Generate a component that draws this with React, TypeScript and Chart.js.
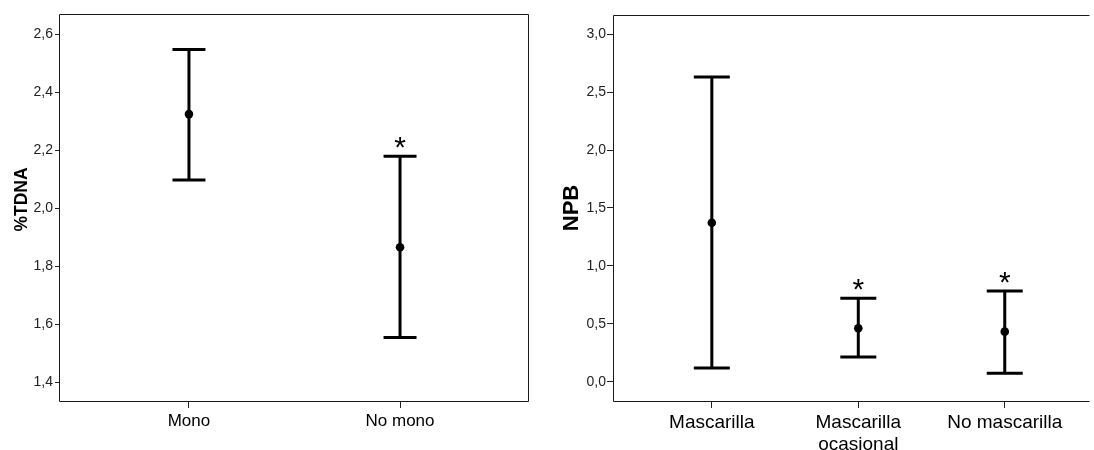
import React, { useEffect, useRef } from "react";
import { Chart, registerables } from "chart.js";
Chart.register(...registerables);

// ---- Left panel data ----
const leftCategories = ["Mono", "No mono"];
const leftMeans = [2.324, 1.865];
const leftLower = [2.097, 1.554];
const leftUpper = [2.547, 2.179];
const leftSig = [false, true];
const leftTicks = [1.4, 1.6, 1.8, 2.0, 2.2, 2.4, 2.6];
const leftTitle = "%TDNA";

// ---- Right panel data ----
const rightCategories = ["Mascarilla", "Mascarilla\nocasional", "No mascarilla"];
const rightMeans = [1.373, 0.461, 0.432];
const rightLower = [0.118, 0.213, 0.073];
const rightUpper = [2.631, 0.72, 0.783];
const rightSig = [false, true, true];
const rightTicks = [0, 0.5, 1.0, 1.5, 2.0, 2.5, 3.0];
const rightTitle = "NPB";

const FONT = "'Liberation Sans', Arial, Helvetica, sans-serif";

const errorBarPlugin = {
  id: "errbars",
  beforeDatasetsDraw(chart: any, _args: any, opts: any) {
    const { ctx } = chart;
    const x = chart.scales.x;
    const y = chart.scales.y;
    ctx.save();
    ctx.strokeStyle = "#000";
    ctx.lineWidth = 3;
    ctx.lineCap = "butt";
    (opts.lower as number[]).forEach((lo: number, i: number) => {
      const px = x.getPixelForValue(i);
      const pl = y.getPixelForValue(lo);
      const pu = y.getPixelForValue(opts.upper[i]);
      ctx.beginPath();
      ctx.moveTo(px, pl);
      ctx.lineTo(px, pu);
      ctx.moveTo(px - opts.cap, pl);
      ctx.lineTo(px + opts.cap, pl);
      ctx.moveTo(px - opts.cap, pu);
      ctx.lineTo(px + opts.cap, pu);
      ctx.stroke();
      if (opts.sig[i]) {
        ctx.fillStyle = "#000";
        ctx.font = `30px ${FONT}`;
        ctx.textAlign = "center";
        ctx.textBaseline = "alphabetic";
        ctx.fillText("*", px, pu + 1);
      }
    });
    ctx.restore();
  },
};

const boxPlugin = {
  id: "box",
  afterDraw(chart: any, _args: any, opts: any) {
    const { ctx, chartArea } = chart;
    const l = Math.round(chartArea.left) - 0.5;
    const t = Math.round(chartArea.top) + 0.5;
    const r = Math.round(chartArea.right) - 0.5;
    const b = Math.round(chartArea.bottom) + 0.5;
    ctx.save();
    ctx.strokeStyle = "#1a1a1a";
    ctx.lineWidth = 1;
    ctx.beginPath();
    ctx.moveTo(r, t);
    ctx.lineTo(l, t);
    ctx.lineTo(l, b);
    ctx.lineTo(r, b);
    if (opts.right) {
      ctx.lineTo(r, t);
    }
    ctx.stroke();
    // y-axis title
    const cy = (chartArea.top + chartArea.bottom) / 2 + opts.titleShift;
    ctx.translate(opts.titleX, cy);
    ctx.rotate(-Math.PI / 2);
    ctx.fillStyle = "#000";
    ctx.font = `bold ${opts.titleSize}px ${FONT}`;
    ctx.textAlign = "center";
    ctx.textBaseline = "middle";
    ctx.fillText(opts.title, 0, 0);
    ctx.restore();
  },
};

type PanelProps = {
  width: number;
  left: number;
  categories: string[];
  means: number[];
  lower: number[];
  upper: number[];
  sig: boolean[];
  ticks: number[];
  title: string;
  yMin: number;
  yMax: number;
  xMin: number;
  xMax: number;
  padTop: number;
  padRight: number;
  yWidth: number;
  yTickLen: number;
  yTickPad: number;
  titleSize: number;
  titleX: number;
  titleShift: number;
  xFont: number;
  cap: number;
  rightBorder: boolean;
};

function Panel(p: PanelProps) {
  const ref = useRef<HTMLCanvasElement | null>(null);
  useEffect(() => {
    if (!ref.current) return;
    const chart = new Chart(ref.current, {
      type: "scatter",
      data: {
        datasets: [
          {
            data: p.means.map((m, i) => ({ x: i, y: m })),
            pointRadius: 4.3,
            pointBackgroundColor: "#000",
            pointBorderWidth: 0,
            showLine: false,
          },
        ],
      },
      options: {
        responsive: false,
        animation: false,
        layout: { padding: { top: p.padTop, right: p.padRight, left: 0, bottom: 0 } },
        plugins: {
          legend: { display: false },
          tooltip: { enabled: false },
          errbars: { lower: p.lower, upper: p.upper, sig: p.sig, cap: p.cap },
          box: {
            right: p.rightBorder,
            title: p.title,
            titleSize: p.titleSize,
            titleX: p.titleX,
            titleShift: p.titleShift,
          },
        } as any,
        scales: {
          x: {
            type: "linear",
            min: p.xMin,
            max: p.xMax,
            afterBuildTicks: (s: any) => {
              s.ticks = p.categories.map((_, i) => ({ value: i }));
            },
            afterFit: (s: any) => {
              s.height = 450 - 401;
            },
            grid: {
              display: true,
              drawOnChartArea: false,
              drawTicks: true,
              tickLength: 7,
              color: "#222",
              lineWidth: 1,
            },
            border: { display: false },
            ticks: {
              autoSkip: false,
              maxRotation: 0,
              minRotation: 0,
              padding: 3,
              color: "#000",
              font: { family: FONT, size: p.xFont, lineHeight: 1.2 },
              callback: (_v: any, i: number) => p.categories[i].split("\n"),
            },
          },
          y: {
            type: "linear",
            min: p.yMin,
            max: p.yMax,
            afterBuildTicks: (s: any) => {
              s.ticks = p.ticks.map((v) => ({ value: v }));
            },
            afterFit: (s: any) => {
              s.width = p.yWidth;
            },
            grid: {
              display: true,
              drawOnChartArea: false,
              drawTicks: true,
              tickLength: p.yTickLen,
              color: "#222",
              lineWidth: 1,
            },
            border: { display: false },
            ticks: {
              padding: p.yTickPad,
              color: "#222",
              font: { family: FONT, size: 14 },
              callback: (v: any) => Number(v).toFixed(1).replace(".", ","),
            },
          },
        },
      },
      plugins: [errorBarPlugin, boxPlugin],
    } as any);
    return () => chart.destroy();
  }, []);
  return (
    <canvas
      ref={ref}
      width={p.width}
      height={450}
      style={{ position: "absolute", left: p.left, top: 0, width: p.width, height: 450 }}
    />
  );
}

export default function App() {
  return (
    <div style={{ position: "absolute", left: 0, top: 0, width: 1094, height: 450, background: "#fff", overflow: "hidden" }}>
      <Panel
        width={545}
        left={0}
        categories={leftCategories}
        means={leftMeans}
        lower={leftLower}
        upper={leftUpper}
        sig={leftSig}
        ticks={leftTicks}
        title={leftTitle}
        yMin={1.335}
        yMax={2.669}
        xMin={-0.611}
        xMax={1.611}
        padTop={14}
        padRight={16}
        yWidth={60}
        yTickLen={5}
        yTickPad={2}
        titleSize={17.5}
        titleX={22}
        titleShift={-8}
        xFont={17}
        cap={16.5}
        rightBorder={true}
      />
      <Panel
        width={549}
        left={545}
        categories={rightCategories}
        means={rightMeans}
        lower={rightLower}
        upper={rightUpper}
        sig={rightSig}
        ticks={rightTicks}
        title={rightTitle}
        yMin={-0.167}
        yMax={3.167}
        xMin={-0.668}
        xMax={2.58}
        padTop={15}
        padRight={0}
        yWidth={69}
        yTickLen={7}
        yTickPad={1}
        titleSize={22}
        titleX={27}
        titleShift={0}
        xFont={19}
        cap={18}
        rightBorder={false}
      />
    </div>
  );
}
